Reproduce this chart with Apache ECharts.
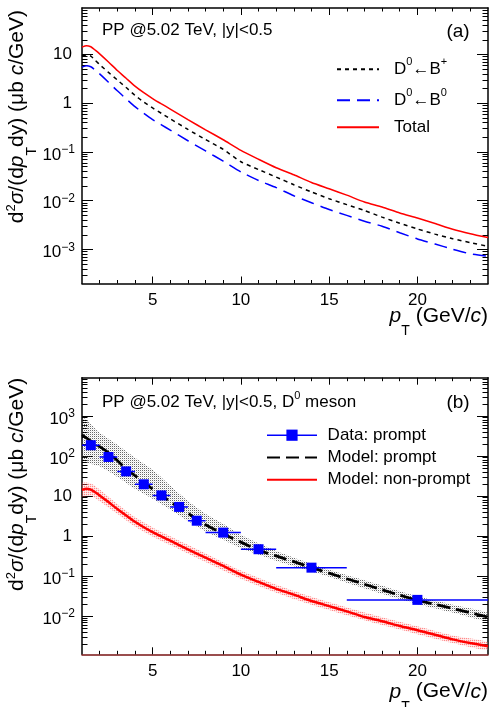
<!DOCTYPE html>
<html>
<head>
<meta charset="utf-8">
<script src="https://cdn.jsdelivr.net/npm/echarts@6/dist/echarts.min.js"></script>
<style>
  html, body { margin: 0; padding: 0; background: #fff; }
  #chart { width: 491px; height: 707px; }
</style>
</head>
<body>
<div id="chart"></div>
<script>
// ---------- values ----------
// pT grid (GeV/c) of the B-feed-down model curves
const ptFeed = [1, 1.25, 1.5, 1.75, 2, 2.5, 3, 3.5, 4, 4.5, 5, 5.5, 6, 7, 8, 9, 10, 11, 12, 13, 14, 15, 16, 17, 18, 19, 20, 21, 22, 23, 24];
// d2sigma/(dpT dy) in ub c/GeV
const fromBplus = [9.3, 9.8, 9.3, 7.6, 6.2, 4.3, 3.0, 2.1, 1.45, 1.06, 0.8, 0.62, 0.48, 0.29, 0.18, 0.113, 0.063, 0.0436, 0.0305, 0.0213, 0.0151, 0.011, 0.0083, 0.0063, 0.0046, 0.00344, 0.00263, 0.00206, 0.00166, 0.00138, 0.00116];
const fromB0 = [5.5, 5.9, 5.6, 4.8, 4.0, 2.7, 1.8, 1.23, 0.85, 0.62, 0.46, 0.36, 0.28, 0.17, 0.105, 0.065, 0.039, 0.026, 0.0186, 0.0126, 0.0091, 0.0066, 0.005, 0.0038, 0.003, 0.0022, 0.00164, 0.00129, 0.00101, 0.00081, 0.00072];
const fromBTotal = [14.2, 15.2, 14.4, 12.3, 10.3, 7.0, 4.7, 3.25, 2.25, 1.65, 1.25, 0.97, 0.76, 0.46, 0.285, 0.178, 0.108, 0.071, 0.0475, 0.034, 0.0237, 0.0176, 0.013, 0.0094, 0.0074, 0.0056, 0.0044, 0.0034, 0.0026, 0.0021, 0.00175];

// uncertainty band of the non-prompt model
const ptNonPromptBand = [1, 1.5, 2, 3, 4, 5, 6, 8, 10, 12, 14, 16, 18, 20, 22, 24];
const nonPromptLow  = [9.6, 10.0, 7.4, 3.6, 1.73, 0.97, 0.59, 0.222, 0.085, 0.038, 0.019, 0.0104, 0.0059, 0.0035, 0.0021, 0.0014];
const nonPromptHigh = [21, 20.5, 14.5, 6.3, 2.95, 1.63, 0.98, 0.365, 0.136, 0.06, 0.03, 0.0163, 0.0093, 0.0055, 0.00325, 0.0022];

// prompt D0 model
const ptPrompt = [1, 1.5, 2, 2.5, 3, 3.5, 4, 4.5, 5, 5.5, 6, 6.5, 7, 7.5, 8, 9, 10, 11, 12, 13, 14, 15, 16, 17, 18, 19, 20, 21, 22, 23, 24];
const promptModel = [335, 235, 170, 120, 77, 47, 32, 22, 14.8, 10.5, 7.1, 5.2, 3.7, 2.6, 1.9, 1.12, 0.7, 0.44, 0.316, 0.227, 0.163, 0.117, 0.085, 0.062, 0.045, 0.033, 0.0247, 0.0195, 0.0153, 0.012, 0.0094];
const ptPromptBand = [1, 2, 3, 4, 5, 6, 7, 8, 9, 10, 12, 14, 16, 18, 20, 22, 24];
const promptHigh = [900, 380, 190, 90, 45, 18, 7.5, 3.6, 2.0, 1.05, 0.42, 0.2, 0.105, 0.057, 0.031, 0.019, 0.0118];
const promptLow  = [80, 55, 30, 15, 8.5, 4.6, 2.4, 1.3, 0.8, 0.5, 0.24, 0.13, 0.068, 0.036, 0.02, 0.0122, 0.0075];

// measured prompt D0 (bin centre, bin edges, value)
const dataPt   = [1.5, 2.5, 3.5, 4.5, 5.5, 6.5, 7.5, 9, 11, 14, 20];
const dataPtLo = [1, 2, 3, 4, 5, 6, 7, 8, 10, 12, 16];
const dataPtHi = [2, 3, 4, 5, 6, 7, 8, 10, 12, 16, 24];
const dataVal  = [185, 94, 41, 19.5, 10.3, 5.3, 2.4, 1.21, 0.465, 0.161, 0.0252];

// axis ticks
const xMajor = [5, 10, 15, 20];
const xMinor = [2, 3, 4, 6, 7, 8, 9, 11, 12, 13, 14, 16, 17, 18, 19, 21, 22, 23];
const yMajorA = [1e-3, 1e-2, 1e-1, 1, 10];
const yMajorB = [1e-2, 1e-1, 1, 10, 100, 1000];

// ---------- helpers ----------
const FONT = "'Liberation Sans', Arial, Helvetica, sans-serif";

function logMinor(eFrom, eTo, lo, hi) {
  const out = [];
  for (let e = eFrom; e <= eTo; e++) {
    for (let k = 2; k <= 9; k++) {
      const v = Number((k * Math.pow(10, e)).toPrecision(6));
      if (v > lo && v < hi) out.push(v);
    }
  }
  return out;
}

function dotPattern(size, cells) {
  const c = document.createElement('canvas');
  c.width = size; c.height = size;
  const g = c.getContext('2d');
  cells.forEach(([x, y, col]) => { g.fillStyle = col; g.fillRect(x, y, 1, 1); });
  return { image: c, repeat: 'repeat' };
}
const grayDots = dotPattern(2, [[0, 0, 'rgba(40,40,40,0.7)'], [1, 1, 'rgba(150,150,150,0.25)']]);
const pinkDots = dotPattern(2, [[0, 0, 'rgba(255,40,40,0.55)'], [1, 0, 'rgba(255,150,150,0.3)'], [0, 1, 'rgba(255,150,150,0.3)'], [1, 1, 'rgba(255,200,200,0.25)']]);

const txt = (extra) => Object.assign({ fontFamily: FONT, color: '#000' }, extra);

const nameRich = {
  n: txt({ fontSize: 21, lineHeight: 24, verticalAlign: 'middle' }),
  i: txt({ fontSize: 21, lineHeight: 24, verticalAlign: 'middle', fontStyle: 'italic' }),
  sup: txt({ fontSize: 13, lineHeight: 10, verticalAlign: 'top' }),
  sub: txt({ fontSize: 14, lineHeight: 14, verticalAlign: 'top', padding: [20, 0, 0, 0] })
};
const labelRich = {
  n: txt({ fontSize: 17, lineHeight: 20, verticalAlign: 'middle', padding: [0, 3, 0, 0] }),
  b: txt({ fontSize: 17, lineHeight: 20, verticalAlign: 'middle', padding: [6, 0, 0, 0] }),
  e: txt({ fontSize: 12, lineHeight: 10, verticalAlign: 'top', padding: [2, 0, 0, 0] })
};
const legendRich = {
  n: txt({ fontSize: 17, lineHeight: 20, verticalAlign: 'middle' }),
  s: txt({ fontSize: 11, height: 6, lineHeight: 6, verticalAlign: 'top' })
};

function powLabel(v) {
  const e = Math.round(Math.log10(v));
  if (e === 0) return '{n|1}';
  if (e === 1) return '{n|10}';
  return '{b|10}{e|' + (e < 0 ? '\u2212' + (-e) : e) + '}';
}

const X_NAME = '{i|p}{sub|T}{n| (GeV/}{i|c}{n|)}';
const Y_NAME = '{n|d}{sup|2}{i|\u03c3}{n|/(d}{i|p}{sub|T}{n|dy) (\u03bcb }{i|c}{n|/GeV)}';

// frame line shown on every axis (transparent on the tick-only ones)
const frameLine = (color) => ({ show: true, lineStyle: { color: color, width: 1.5 } });

function xAxes(gi, namePad, lineColor) {
  const base = { type: 'value', gridIndex: gi, min: 1, max: 24, splitLine: { show: false } };
  const tick = (len, vals) => ({ show: true, inside: true, length: len, customValues: vals, lineStyle: { color: '#000', width: 1 } });
  return [
    Object.assign({}, base, {
      position: 'bottom',
      axisLine: frameLine(lineColor),
      axisTick: tick(7, xMajor),
      axisLabel: { customValues: xMajor, margin: 8, fontSize: 17, lineHeight: 18, fontFamily: FONT, color: '#000' },
      name: X_NAME, nameLocation: 'end', nameGap: 0, nameMoveOverlap: false,
      nameTextStyle: { align: 'right', verticalAlign: 'top', padding: [namePad, 0, 0, 0], rich: nameRich }
    }),
    Object.assign({}, base, { position: 'top', axisLine: frameLine('#000'), axisTick: tick(7, xMajor), axisLabel: { show: false } }),
    Object.assign({}, base, { position: 'bottom', axisLine: frameLine('rgba(0,0,0,0)'), axisTick: tick(3.5, xMinor), axisLabel: { show: false } }),
    Object.assign({}, base, { position: 'top', axisLine: frameLine('rgba(0,0,0,0)'), axisTick: tick(3.5, xMinor), axisLabel: { show: false } })
  ];
}

function yAxes(gi, min, max, major, minor, nameGap) {
  const base = { type: 'log', logBase: 10, gridIndex: gi, min: min, max: max, splitLine: { show: false } };
  const tick = (len, vals) => ({ show: true, inside: true, length: len, customValues: vals, lineStyle: { color: '#000', width: 1 } });
  return [
    Object.assign({}, base, {
      position: 'left',
      axisLine: frameLine('#000'),
      axisTick: tick(11, major),
      axisLabel: { customValues: major, margin: 7, formatter: powLabel, rich: labelRich, fontFamily: FONT, color: '#000' },
      name: Y_NAME, nameLocation: 'end', nameGap: nameGap, nameRotate: 90, nameMoveOverlap: false,
      nameTextStyle: { align: 'right', verticalAlign: 'bottom', padding: [0, 0, 53, 0], rich: nameRich }
    }),
    Object.assign({}, base, { position: 'right', axisLine: frameLine('#000'), axisTick: tick(11, major), axisLabel: { show: false } }),
    Object.assign({}, base, { position: 'left', axisLine: frameLine('rgba(0,0,0,0)'), axisTick: tick(5.5, minor), axisLabel: { show: false } }),
    Object.assign({}, base, { position: 'right', axisLine: frameLine('rgba(0,0,0,0)'), axisTick: tick(5.5, minor), axisLabel: { show: false } })
  ];
}

// invisible series so that every tick-only axis takes part in its grid
function axisAnchor(xi, yi) {
  return { type: 'scatter', xAxisIndex: xi, yAxisIndex: yi, data: [[5, 1]], symbolSize: 0, silent: true, itemStyle: { opacity: 0 } };
}

function curve(name, xi, xs, ys, color, width, type, z) {
  return {
    type: 'line', name: name, xAxisIndex: xi, yAxisIndex: xi,
    data: xs.map((x, i) => [x, ys[i]]),
    symbol: 'none', smooth: 0.2, clip: true, z: z,
    lineStyle: { color: color, width: width, type: type },
    itemStyle: { color: color }
  };
}

function band(xi, xs, lo, hi, fill, z) {
  return {
    type: 'custom', xAxisIndex: xi, yAxisIndex: xi, clip: true, silent: true, z: z,
    data: [[xs[0], lo[0]]],
    renderItem: function (params, api) {
      const pts = [];
      for (let i = 0; i < xs.length; i++) pts.push(api.coord([xs[i], hi[i]]));
      for (let i = xs.length - 1; i >= 0; i--) pts.push(api.coord([xs[i], lo[i]]));
      return { type: 'polygon', shape: { points: pts, smooth: 0.25 }, style: { fill: fill, stroke: null } };
    }
  };
}

const lineOnly = (name) => ({ name: name, itemStyle: { opacity: 0 } });

// ---------- chart ----------
const chart = echarts.init(document.getElementById('chart'), null, { renderer: 'canvas' });

const option = {
  animation: false,
  backgroundColor: '#fff',
  grid: [
    { left: 82, right: 3, top: 8, height: 275.5, containLabel: false, outerBoundsMode: 'none' },
    { left: 82, right: 3, top: 377.7, height: 276.6, containLabel: false, outerBoundsMode: 'none' }
  ],
  xAxis: xAxes(0, 20.5, '#000').concat(xAxes(1, 25.4, '#7a1414')),
  yAxis: yAxes(0, 2e-4, 90, yMajorA, logMinor(-4, 1, 2e-4, 90), -2)
    .concat(yAxes(1, 1.1e-3, 9e3, yMajorB, logMinor(-3, 3, 1.1e-3, 9e3), 0)),
  legend: [
    {
      data: [lineOnly('bplus'), lineOnly('b0'), lineOnly('total')],
      formatter: (n) => ({ bplus: '{n|D}{s|0}{n|\u2190B}{s|+}', b0: '{n|D}{s|0}{n|\u2190B}{s|0}', total: '{n|Total}' })[n],
      orient: 'vertical', left: 336, top: 56.7, padding: 0,
      itemWidth: 42, itemHeight: 14, itemGap: 10, selectedMode: false,
      textStyle: { fontSize: 17, fontFamily: FONT, color: '#000', padding: [0, 0, 0, 10], rich: legendRich }
    },
    {
      data: [
        { name: 'Data: prompt', lineStyle: { opacity: 1, width: 1.5, color: '#0000ff', type: 'solid' } },
        lineOnly('Model: prompt'),
        lineOnly('Model: non-prompt')
      ],
      formatter: (n) => '{n|' + n + '}',
      orient: 'vertical', left: 266, top: 426.7, padding: 0,
      itemWidth: 50, itemHeight: 14, itemGap: 5.3, selectedMode: false,
      textStyle: { fontSize: 17, fontFamily: FONT, color: '#000', padding: [0, 0, 0, 5.6], rich: legendRich }
    }
  ],
  graphic: [
    { type: 'text', x: 102, y: 30, style: { text: 'PP @5.02 TeV, |y|<0.5', font: '17px ' + FONT, fill: '#000', verticalAlign: 'middle', textVerticalAlign: 'middle' } },
    { type: 'text', x: 458, y: 31.7, style: { text: '(a)', font: '19px ' + FONT, fill: '#000', align: 'center', textAlign: 'center', verticalAlign: 'middle', textVerticalAlign: 'middle' } },
    { type: 'text', x: 102, y: 402.7, style: { text: '{n|PP @5.02 TeV, |y|<0.5, D}{s|0}{n| meson}', rich: legendRich, fill: '#000', verticalAlign: 'middle', textVerticalAlign: 'middle' } },
    { type: 'text', x: 458, y: 402.7, style: { text: '(b)', font: '19px ' + FONT, fill: '#000', align: 'center', textAlign: 'center', verticalAlign: 'middle', textVerticalAlign: 'middle' } }
  ],
  series: [
    axisAnchor(1, 1), axisAnchor(2, 2), axisAnchor(3, 3),
    axisAnchor(5, 5), axisAnchor(6, 6), axisAnchor(7, 7),

    // (a) B feed-down contributions
    curve('bplus', 0, ptFeed, fromBplus, '#000000', 1.5, [4, 4], 3),
    curve('b0', 0, ptFeed, fromB0, '#0000ff', 1.5, [13, 7], 3),
    curve('total', 0, ptFeed, fromBTotal, '#ff0000', 1.5, 'solid', 3),

    // (b) prompt / non-prompt comparison
    band(4, ptPromptBand, promptLow, promptHigh, grayDots, 1),
    band(4, ptNonPromptBand, nonPromptLow, nonPromptHigh, pinkDots, 1),
    curve('Model: non-prompt', 4, ptFeed, fromBTotal, '#ff0000', 2.5, 'solid', 3),
    curve('Model: prompt', 4, ptPrompt, promptModel, '#000000', 2.8, [13, 6], 3),
    {
      type: 'custom', xAxisIndex: 4, yAxisIndex: 4, clip: true, silent: true, z: 4,
      data: dataPt.map((x, i) => [x, dataVal[i], dataPtLo[i], dataPtHi[i]]),
      encode: { x: 0, y: 1 },
      renderItem: function (params, api) {
        const y = api.value(1);
        const a = api.coord([api.value(2), y]);
        const b = api.coord([api.value(3), y]);
        return { type: 'line', shape: { x1: a[0], y1: a[1], x2: b[0], y2: b[1] }, style: { stroke: '#0000ff', lineWidth: 1.5 } };
      }
    },
    {
      type: 'line', name: 'Data: prompt', xAxisIndex: 4, yAxisIndex: 4, z: 5,
      data: dataPt.map((x, i) => [x, dataVal[i]]),
      symbol: 'rect', symbolSize: 10, showSymbol: true,
      lineStyle: { opacity: 0, width: 0 },
      itemStyle: { color: '#0000ff' }
    }
  ]
};

chart.setOption(option);
</script>
</body>
</html>
